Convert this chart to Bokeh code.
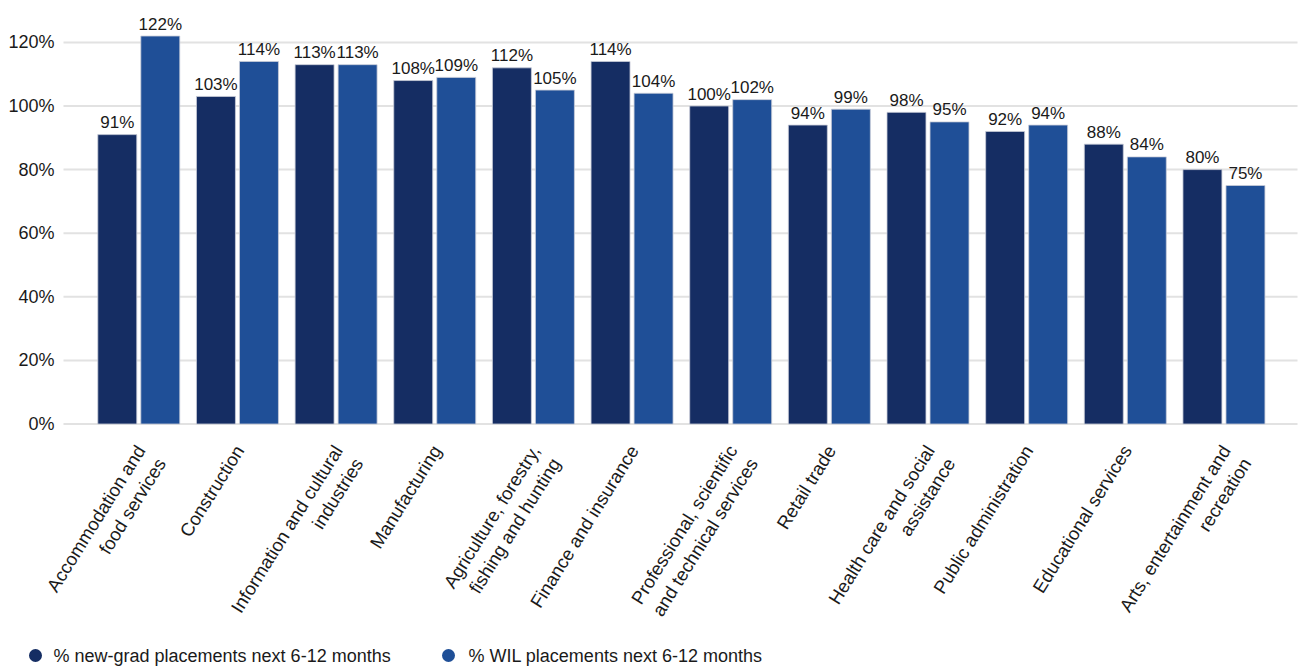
import math
import numpy as np
from bokeh.plotting import figure
from bokeh.models import ColumnDataSource, Range1d
from bokeh.core.properties import value
from bokeh.embed import file_html
from bokeh.resources import INLINE

industries = [
    "Accommodation and\nfood services",
    "Construction",
    "Information and cultural\nindustries",
    "Manufacturing",
    "Agriculture, forestry,\nfishing and hunting",
    "Finance and insurance",
    "Professional, scientific\nand technical services",
    "Retail trade",
    "Health care and social\nassistance",
    "Public administration",
    "Educational services",
    "Arts, entertainment and\nrecreation",
]
new_grad = [91, 103, 113, 108, 112, 114, 100, 94, 98, 92, 88, 80]
wil = [122, 114, 113, 109, 105, 104, 102, 99, 95, 94, 84, 75]
y_ticks = [0, 20, 40, 60, 80, 100, 120]
series_names = ["% new-grad placements next 6-12 months",
                "% WIL placements next 6-12 months"]

DARK = "#152d63"
BLUE = "#1f4f97"
TEXT = "#1a1a1a"
GRID = "#e2e2e2"
FONT = value("Liberation Sans")

W, H = 1303, 668
# layout: one category slot = 98.65 px, first slot centred at 138.3 px,
# 0 % at 423.5 px from the top and 3.18 px per percentage point
SLOT, X0 = 98.65, 138.3
ZERO_PX, PX_PER_PCT = 423.5, 3.18


def px_x(px):
    return (px - X0) / SLOT


def px_y(px):
    return (ZERO_PX - px) / PX_PER_PCT


n = len(industries)
idx = np.arange(n)

p = figure(
    width=W, height=H,
    x_range=Range1d(px_x(0), px_x(W)),
    y_range=Range1d(px_y(H), px_y(0)),
    output_backend="svg", toolbar_location=None,
    min_border=0, x_axis_type=None, y_axis_type=None,
)
p.outline_line_color = None
p.grid.visible = False

OFF = 0.218
BW = 0.395
GAP = 12 / PX_PER_PCT  # bar top to the middle of its value label

# horizontal grid lines at each tick
gx0, gx1 = px_x(63), px_x(1297)
p.segment(x0=[gx0] * len(y_ticks), x1=[gx1] * len(y_ticks),
          y0=y_ticks, y1=y_ticks, line_color=GRID, line_width=2)

# y tick labels
p.text(x=[px_x(54)] * len(y_ticks), y=y_ticks,
       text=[f"{t}%" for t in y_ticks],
       text_align="right", text_baseline="middle",
       text_font=FONT, text_font_size="18px", text_color=TEXT)

src = ColumnDataSource(dict(
    x_ng=idx - OFF, x_wil=idx + OFF,
    ng=new_grad, wil=wil,
    ng_y=[v + GAP for v in new_grad], wil_y=[v + GAP for v in wil],
    ng_lbl=[f"{v}%" for v in new_grad],
    wil_lbl=[f"{v}%" for v in wil],
    x_cat=idx - 7 / SLOT, y_cat=[px_y(441)] * n, cat=industries,
))

p.vbar(x="x_ng", top="ng", width=BW, source=src, fill_color=DARK,
       line_color="#c9cdd8", line_width=0.8)
p.vbar(x="x_wil", top="wil", width=BW, source=src, fill_color=BLUE,
       line_color="#c9cdd8", line_width=0.8)

# value labels above the bars
for xcol, ycol, tcol in (("x_ng", "ng_y", "ng_lbl"),
                         ("x_wil", "wil_y", "wil_lbl")):
    p.text(x=xcol, y=ycol, text=tcol, source=src,
           text_align="center", text_baseline="middle",
           text_font=FONT, text_font_size="17px", text_color=TEXT)

# rotated category labels under each group
p.text(x="x_cat", y="y_cat", text="cat", source=src,
       angle=math.radians(58), text_align="right", text_baseline="top",
       text_font=FONT, text_font_size="18.5px", text_color=TEXT,
       text_line_height=1.15)

# legend row
leg_y = px_y(655)
leg_x = [px_x(35), px_x(448)]
p.scatter(x=leg_x, y=[leg_y, leg_y], size=13, marker="circle",
          fill_color=[DARK, BLUE], line_color=None)
p.text(x=[px_x(53), px_x(468)], y=[leg_y, leg_y], text=series_names,
       text_align="left", text_baseline="middle",
       text_font=FONT, text_font_size="18px", text_color=TEXT)

open("out.html", "w").write(file_html(p, INLINE))
